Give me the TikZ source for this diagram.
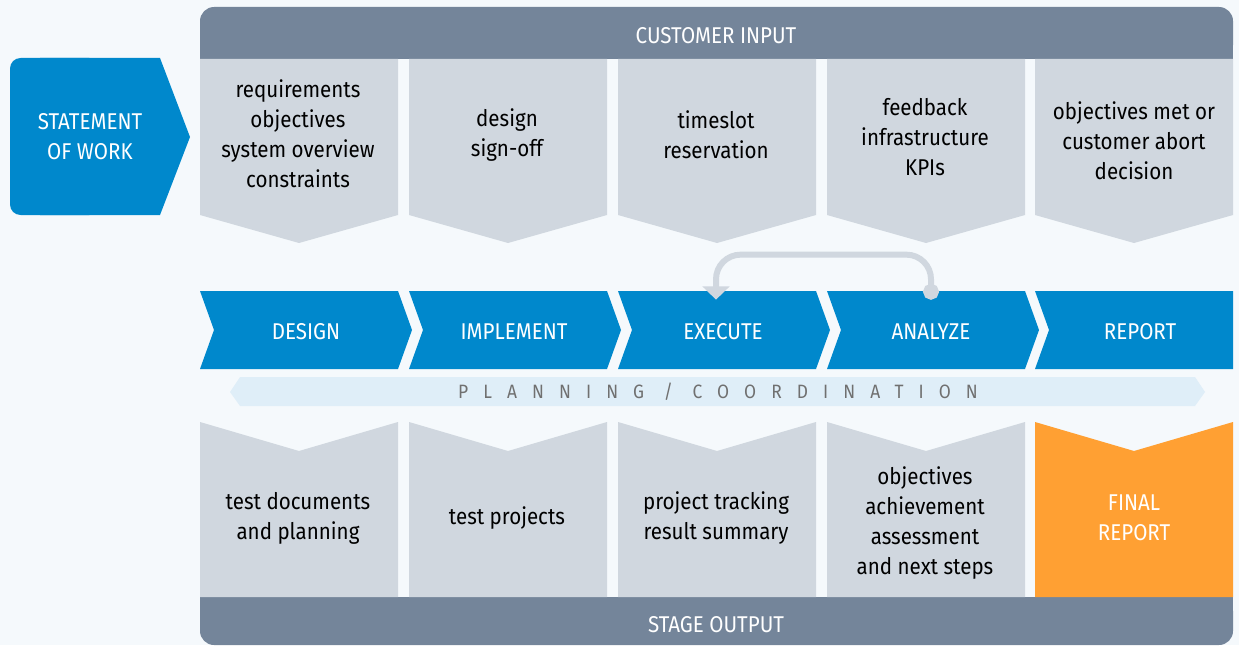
\documentclass[tikz,border=0pt]{standalone}
\usepackage{fontspec}
\setmainfont{Fira Sans}[FakeStretch=0.9]
\usetikzlibrary{arrows.meta}

\definecolor{bgpale}{HTML}{F5F9FC}
\definecolor{sowblue}{HTML}{0088CC}
\definecolor{barslate}{HTML}{74859A}
\definecolor{boxgrey}{HTML}{D0D7DF}
\definecolor{planband}{HTML}{DFEEF8}
\definecolor{finalorange}{HTML}{FFA033}
\definecolor{plantext}{HTML}{707070}

\tikzset{
  boxtext/.style={align=center, text=black, font=\fontsize{13}{17}\selectfont},
  captext/.style={align=center, text=white, font=\fontsize{13}{17}\selectfont},
  phasetext/.style={captext, minimum height=1.56cm, inner sep=0pt},
}

\begin{document}
\begin{tikzpicture}[x=0.02cm, y=-0.02cm]

        \fill[bgpale] (0,0) rectangle (1239,645);
        \useasboundingbox (0,0) rectangle (1239,645);

        % statement of work
        \fill[sowblue, rounded corners=6] (10,58) rectangle (100,215);
        \fill[sowblue] (190,137) -- (160,58) -- (40,58) -- (40,215) -- (160,215) -- cycle;

        % customer input and stage output bars
        \fill[barslate, rounded corners=8] (200,7) rectangle (1233,59);
        \fill[barslate] (200,40) rectangle (1233,59);
        \fill[barslate, rounded corners=8] (200,597) rectangle (1233,645);
        \fill[barslate] (200,597) rectangle (1233,620);

        % input and output boxes
        \foreach \x in {200,409,618,827,1035} {
          \fill[boxgrey] (\x,59) -- (\x+198,59) -- (\x+198,215) -- (\x+99,243) -- (\x,215) -- cycle;
        }
        \foreach \x in {200,409,618,827} {
          \fill[boxgrey] (\x,422) -- (\x+99,451) -- (\x+198,422) -- (\x+198,597) -- (\x,597) -- cycle;
        }
        \fill[finalorange] (1035,422) -- (1134,451) -- (1233,422) -- (1233,597) -- (1035,597) -- cycle;

        % phases
        \foreach \x in {200,409,618,827} {
          \fill[sowblue] (\x,291) -- (\x+198,291) -- (\x+212,330) -- (\x+198,369) -- (\x,369) -- (\x+14,330) -- cycle;
        }
        \fill[sowblue] (1035,291) -- (1233,291) -- (1233,369) -- (1035,369) -- (1049,330) -- cycle;

        % planning band
        \fill[planband] (230,392) -- (240,377) -- (1195,377) -- (1205,392) -- (1195,406) -- (240,406) -- cycle;

        \begin{scope}[every node/.style={captext}]
          \node (sow)    at (90,137)   {STATEMENT\\OF WORK};
          \node (input)  at (716,36)   {CUSTOMER INPUT};
          \node (output) at (716,625)  {STAGE OUTPUT};
          \node (final)  at (1134,518) {FINAL\\REPORT};
        \end{scope}

        \begin{scope}[every node/.style={phasetext}]
          \node (design)    at (306,332)  {DESIGN};
          \node (implement) at (514,332)  {IMPLEMENT};
          \node (execute)   at (723,332)  {EXECUTE};
          \node (analyze)   at (931,332)  {ANALYZE};
          \node (report)    at (1140,332) {REPORT};
        \end{scope}

        \node[text=plantext, font=\fontsize{11}{13}\selectfont\addfontfeature{LetterSpace=78}] (plan) at (718,392) {PLANNING / COORDINATION};

        \begin{scope}[every node/.style={boxtext}]
          \node (req)      at (298,134)  {requirements\\objectives\\system overview\\constraints};
          \node (signoff)  at (507,135)  {design\\sign-off};
          \node (slot)     at (716,135)  {timeslot\\reservation};
          \node (feedback) at (925,137)  {feedback\\infrastructure\\KPIs};
          \node (decision) at (1134,141) {objectives met or\\customer abort\\decision};

          \node (testdocs) at (298,518)  {test documents\\and planning};
          \node (testproj) at (507,518)  {test projects};
          \node (tracking) at (716,518)  {project tracking\\result summary};
          \node (assess)   at (925,523)  {objectives\\achievement\\assessment\\and next steps};
        \end{scope}

        \draw[boxgrey, line width=3.4pt, rounded corners=14, {Circle[length=9pt]}-{Triangle[width=15pt,length=7.5pt]}]
          ([yshift=-0.14cm]analyze.north) -- ++(0,-45) -| ([xshift=-0.14cm, yshift=-0.14cm]execute.north);

      \end{tikzpicture}
\end{document}
